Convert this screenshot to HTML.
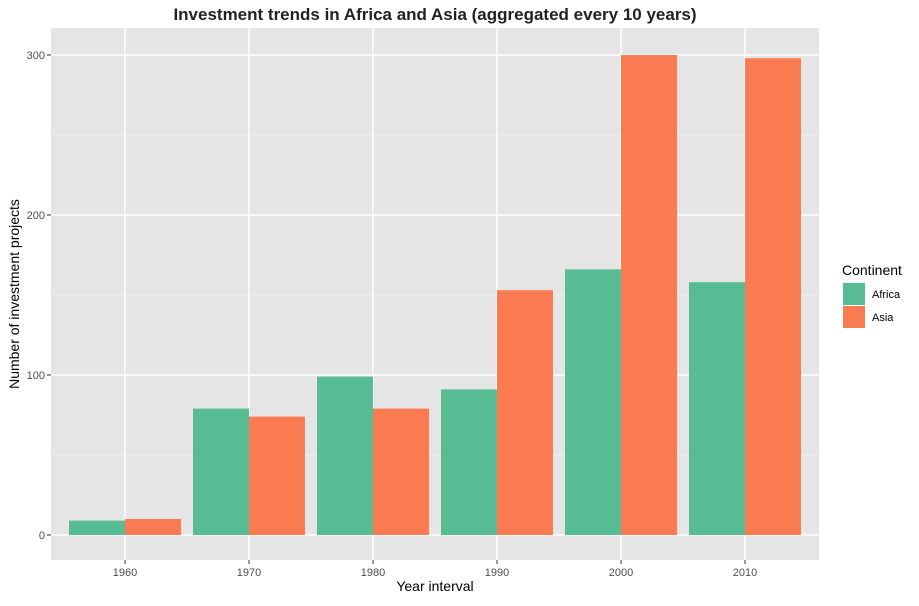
<!DOCTYPE html>
<html><head><meta charset="utf-8"><style>
body{margin:0;background:#fff;font-family:"Liberation Sans",sans-serif;}
</style></head><body>
<svg width="919" height="601" xmlns="http://www.w3.org/2000/svg" font-family="Liberation Sans, sans-serif">
<text x="435" y="20" text-anchor="middle" font-size="17" font-weight="bold" fill="#222">Investment trends in Africa and Asia (aggregated every 10 years)</text>
<rect x="51" y="28" width="768" height="532" fill="#e5e5e5"/>
<g id="grid"></g><g id="bars"></g><g id="axes"></g>
<text x="435" y="591" text-anchor="middle" font-size="14" fill="#000">Year interval</text>
<text transform="translate(19,294) rotate(-90)" text-anchor="middle" font-size="14" fill="#000">Number of investment projects</text>
<g>
<text x="842" y="275" font-size="14" fill="#000">Continent</text>
<rect x="843" y="283" width="22" height="22" fill="#57bb94"/>
<text x="872" y="298" font-size="11" fill="#000">Africa</text>
<rect x="843" y="306" width="22" height="22" fill="#fa7a51"/>
<text x="872" y="321" font-size="11" fill="#000">Asia</text>
</g>
</svg>
<script>
const categories=["1960","1970","1980","1990","2000","2010"];
const africa=[9,79,99,91,166,158];
const asia=[10,74,79,153,300,298];
const yTicks=[0,100,200,300];
const yMinor=[50,150,250];
const NS="http://www.w3.org/2000/svg";
const x=i=>125+124*i;
const y=v=>535-1.6*v;
function mk(tag,attrs,parent){const e=document.createElementNS(NS,tag);for(const k in attrs)e.setAttribute(k,attrs[k]);document.getElementById(parent).appendChild(e);return e;}
yMinor.forEach(v=>{const l=mk('line',{x1:51,x2:819,y1:y(v),y2:y(v),stroke:'#f2f2f2','stroke-width':0.7},'grid');

});
yTicks.forEach(v=>{const l=mk('line',{x1:51,x2:819,y1:y(v),y2:y(v),stroke:'#fff','stroke-width':1.4},'grid');


const t=mk('text',{x:45,y:y(v)+4,'text-anchor':'end','font-size':11,fill:'#4d4d4d'},'axes');t.textContent=v;


const tk=mk('line',{x1:47,x2:51,y1:y(v),y2:y(v),stroke:'#333'},'axes');

});
categories.forEach((c,i)=>{const l=mk('line',{x1:x(i),x2:x(i),y1:28,y2:560,stroke:'#fff','stroke-width':1.4},'grid');


const a=mk('rect',{x:x(i)-56,y:y(africa[i]),width:56,height:1.6*africa[i],fill:'#57bb94'},'bars');


const b=mk('rect',{x:x(i),y:y(asia[i]),width:56,height:1.6*asia[i],fill:'#fa7a51'},'bars');


const tk=mk('line',{x1:x(i),x2:x(i),y1:560,y2:564,stroke:'#333'},'axes');


const t=mk('text',{x:x(i),y:576,'text-anchor':'middle','font-size':11,fill:'#4d4d4d'},'axes');t.textContent=c;

});
</script>
</body></html>
